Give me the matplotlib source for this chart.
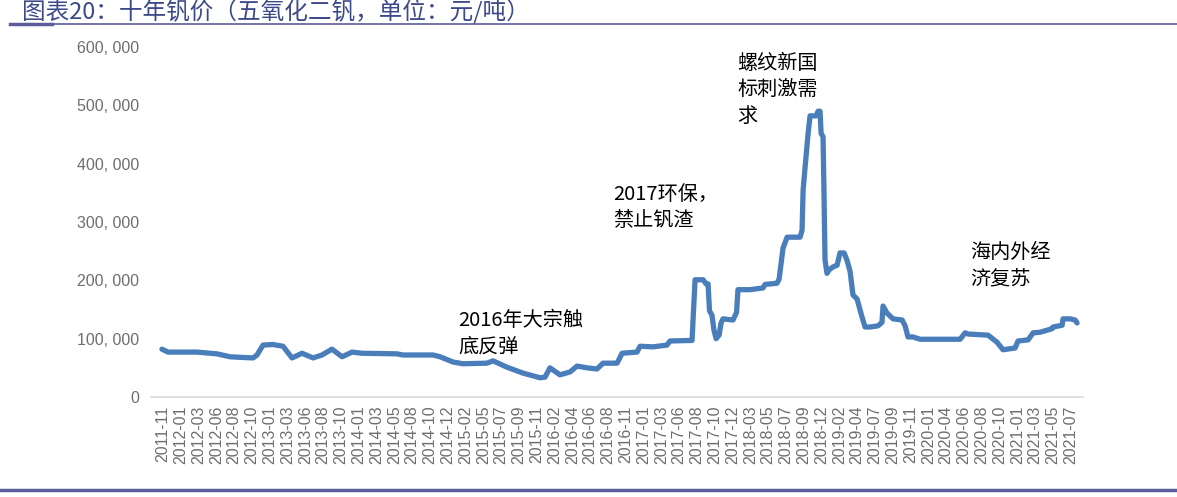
import matplotlib
matplotlib.use('Agg')
import matplotlib.pyplot as plt
from matplotlib.ticker import FuncFormatter
from matplotlib.lines import Line2D

# Category labels on the x axis (evenly spaced in the source chart)
month_labels = ['2011-11', '2012-01', '2012-03', '2012-06', '2012-08', '2012-10',
                '2013-01', '2013-03', '2013-06', '2013-08', '2013-10',
                '2014-01', '2014-03', '2014-05', '2014-08', '2014-10', '2014-12',
                '2015-02', '2015-05', '2015-07', '2015-09', '2015-11',
                '2016-02', '2016-04', '2016-06', '2016-08', '2016-11',
                '2017-01', '2017-03', '2017-06', '2017-08', '2017-10', '2017-12',
                '2018-03', '2018-05', '2018-07', '2018-09', '2018-12',
                '2019-02', '2019-04', '2019-07', '2019-09', '2019-11',
                '2020-01', '2020-04', '2020-06', '2020-08', '2020-10',
                '2021-01', '2021-03', '2021-05', '2021-07']

# Price trace: position measured in label slots, price in yuan/ton (thousands)
pos = [-0.06, 0.28, 1.91, 3.03, 3.76, 4.33, 5.06, 5.28, 5.62, 6.18, 6.74, 7.25,
       7.81, 8.43, 8.93, 9.49, 10.06, 10.62, 11.18, 13.15, 13.48, 15.17, 15.56,
       16.29, 16.85, 18.20, 18.54, 19.33, 20.22, 21.18, 21.46, 21.74, 22.30,
       22.87, 23.26, 23.82, 24.38, 24.72, 25.51, 25.79, 26.63, 26.80, 27.53,
       28.31, 28.48, 29.72, 29.89, 30.34, 30.51, 30.62, 30.70, 30.84, 30.95,
       31.07, 31.24, 31.35, 31.46, 32.02, 32.22, 32.30, 32.98, 33.71, 33.82,
       34.49, 34.61, 34.83, 35.06, 35.79, 35.90, 35.96, 36.12, 36.24, 36.35,
       36.69, 36.80, 36.91, 36.97, 37.08, 37.13, 37.19, 37.30, 37.42, 37.64,
       37.87, 38.03, 38.26, 38.43, 38.60, 38.76, 38.99, 39.27, 39.44, 39.72,
       40.17, 40.39, 40.45, 40.67, 41.01, 41.52, 41.69, 41.85, 42.13, 42.53,
       44.78, 45.06, 45.22, 46.35, 46.85, 47.19, 47.87, 48.03, 48.60, 48.88,
       49.27, 49.94, 50.00, 50.51, 50.56, 50.96, 51.24, 51.35]
price_k = [82, 77, 77, 74, 69, 68, 67, 72, 89, 90, 87, 67,
           75, 67, 72, 82, 69, 77, 75, 74, 72, 72, 69,
           60, 57, 58, 62, 51, 41, 33, 34, 50, 38,
           43, 53, 50, 48, 58, 58, 75, 77, 87, 86,
           89, 96, 97, 201, 201, 194, 194, 148, 140, 115,
           100, 106, 127, 134, 132, 145, 184, 184, 187, 193,
           195, 202, 255, 274, 274, 286, 355, 411, 452, 482,
           482, 490, 490, 452, 446, 355, 235, 212, 218, 223,
           226, 247, 247, 234, 215, 175, 168, 137, 120, 120,
           122, 128, 156, 144, 134, 132, 122, 103, 103, 99,
           99, 110, 108, 106, 94, 81, 84, 96, 98, 110,
           111, 117, 120, 123, 134, 134, 132, 127]
price = [p * 1000 for p in price_k]

title = '图表20：十年钒价（五氧化二钒，单位：元/吨）'
notes = [('螺纹新国\n标刺激需\n求', 32.25, 590000),
         ('2017环保，\n禁止钒渣', 25.28, 366000),
         ('2016年大宗触\n底反弹', 16.57, 150000),
         ('海内外经\n济复苏', 45.34, 265000)]

cjk = ['Noto Sans CJK SC', 'DejaVu Sans']
line_col = '#4A7EBB'
frame_col = '#5B5E9A'

fig = plt.figure(figsize=(11.77, 4.97), dpi=100)
ax = fig.add_axes([0.1279, 0.2012, 0.7925, 0.7042])

ax.plot(pos, price, color=line_col, lw=3.8, solid_joinstyle='round',
        solid_capstyle='round')

ax.set_xlim(-0.7, 51.7)
ax.set_ylim(0, 600000)
ax.set_yticks(range(0, 600001, 100000))
ax.yaxis.set_major_formatter(FuncFormatter(
    lambda v, p: '0' if v == 0 else f'{v:,.0f}'.replace(',', ', ')))
ax.set_xticks(range(len(month_labels)))
ax.set_xticklabels(month_labels, rotation=90, family='Liberation Sans',
                   fontsize=11.5, color='#6E6E6E')
for lab in ax.get_yticklabels():
    lab.set_family('Liberation Sans')
    lab.set_fontsize(11.5)
    lab.set_color('#6E6E6E')
ax.tick_params(axis='y', length=0, pad=8)
ax.tick_params(axis='x', length=0, pad=6)
for s in ['top', 'right', 'left']:
    ax.spines[s].set_visible(False)
ax.spines['bottom'].set_color('#D9D9D9')
ax.spines['bottom'].set_linewidth(1.2)

for txt, x, y in notes:
    ax.text(x, y, txt, family=cjk, fontsize=14.5, va='top', ha='left',
            color='black', linespacing=1.35)

# Title and frame lines
fig.text(22 / 1177, 1 - 11 / 497, title, family=cjk, fontsize=17,
         color='#3D4A8A', va='center', ha='left')
fig.add_artist(Line2D([10 / 1177, 1], [1 - 23.5 / 497] * 2, color=frame_col,
                      lw=1.2, transform=fig.transFigure))
fig.add_artist(Line2D([10 / 1177, 52 / 1177], [1 - 23.5 / 497] * 2,
                      color=frame_col, lw=2.5, transform=fig.transFigure))
fig.add_artist(Line2D([0, 1], [1 - 490 / 497] * 2, color=frame_col, lw=2.5,
                      transform=fig.transFigure))

fig.savefig('out.png', dpi=100)
